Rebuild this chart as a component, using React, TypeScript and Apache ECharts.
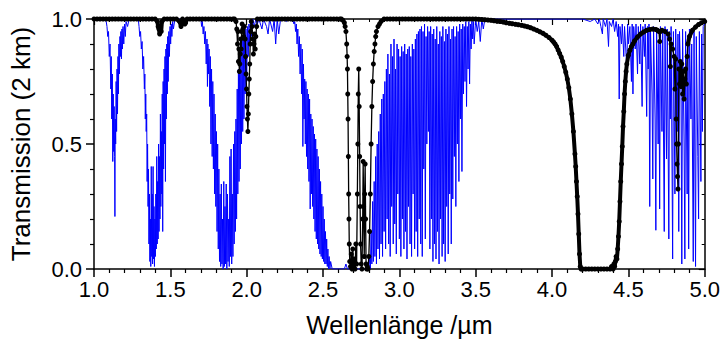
import React, { useEffect, useRef } from "react";
import * as echarts from "echarts";

// ---- Blue series (H2O transmission), [wavelength µm, transmission] ----
const blueBand1: number[][] = [
  [1.0, 1.0], [1.03, 0.995], [1.06, 1.0], [1.08, 0.99], [1.085, 0.97], [1.09, 0.93], [1.095, 0.95], [1.1, 0.85],
  [1.105, 0.9], [1.11, 0.72], [1.113, 0.85], [1.116, 0.6], [1.12, 0.78], [1.123, 0.43], [1.126, 0.7], [1.129, 0.47],
  [1.132, 0.65], [1.135, 0.45], [1.137, 0.21], [1.139, 0.6], [1.142, 0.5], [1.145, 0.75], [1.148, 0.55], [1.151, 0.8],
  [1.154, 0.62], [1.157, 0.85], [1.16, 0.7], [1.163, 0.9], [1.166, 0.78], [1.17, 0.93], [1.173, 0.85], [1.176, 0.95],
  [1.18, 0.84], [1.183, 0.96], [1.186, 0.88], [1.19, 0.97], [1.195, 0.9], [1.2, 0.98], [1.205, 0.93], [1.21, 0.99],
  [1.22, 0.97], [1.23, 1.0], [1.26, 0.995], [1.29, 1.0],
];
const blueBand2: number[][] = [
  [1.295, 0.97], [1.3, 0.93], [1.305, 0.95], [1.31, 0.88], [1.315, 0.91], [1.32, 0.8], [1.325, 0.85], [1.33, 0.72],
  [1.333, 0.78], [1.336, 0.6], [1.339, 0.7], [1.342, 0.55], [1.345, 0.62], [1.348, 0.35], [1.351, 0.5], [1.354, 0.25],
  [1.357, 0.4], [1.36, 0.1], [1.363, 0.3], [1.366, 0.03], [1.369, 0.2], [1.372, 0.01], [1.375, 0.41], [1.378, 0.05],
  [1.381, 0.3], [1.384, 0.02], [1.387, 0.41], [1.39, 0.04], [1.393, 0.25], [1.396, 0.01], [1.399, 0.2], [1.402, 0.05],
  [1.405, 0.3], [1.408, 0.08], [1.411, 0.45], [1.414, 0.1], [1.417, 0.35], [1.42, 0.12], [1.423, 0.5], [1.426, 0.15],
  [1.429, 0.45], [1.432, 0.2], [1.435, 0.62], [1.438, 0.25], [1.441, 0.55], [1.444, 0.3], [1.447, 0.7], [1.45, 0.15],
  [1.453, 0.75], [1.456, 0.4], [1.459, 0.8], [1.462, 0.5], [1.465, 0.85], [1.468, 0.35], [1.471, 0.88], [1.474, 0.6],
  [1.477, 0.9], [1.48, 0.7], [1.483, 0.93], [1.486, 0.75], [1.49, 0.95], [1.494, 0.85], [1.498, 0.97], [1.502, 0.9],
  [1.506, 0.98], [1.51, 0.93], [1.515, 0.99], [1.52, 0.96], [1.53, 1.0], [1.6, 1.0], [1.68, 1.0],
];
const blueBand3: number[][] = [
  [1.7, 1.0], [1.705, 0.97], [1.71, 0.99], [1.715, 0.94], [1.72, 0.97], [1.725, 0.9], [1.73, 0.95], [1.735, 0.82],
  [1.74, 0.92], [1.743, 0.73], [1.746, 0.9], [1.75, 0.78], [1.754, 0.88], [1.758, 0.65], [1.762, 0.85], [1.766, 0.5],
  [1.77, 0.8], [1.774, 0.45], [1.778, 0.75], [1.782, 0.4], [1.786, 0.7], [1.79, 0.3], [1.794, 0.62], [1.798, 0.25],
  [1.802, 0.55], [1.806, 0.15], [1.81, 0.5], [1.814, 0.08], [1.818, 0.4], [1.822, 0.03], [1.826, 0.3], [1.83, 0.01],
  [1.834, 0.34], [1.838, 0.02], [1.842, 0.2], [1.846, 0.0], [1.85, 0.35], [1.854, 0.01], [1.858, 0.25], [1.862, 0.02],
  [1.866, 0.34], [1.87, 0.0], [1.874, 0.3], [1.878, 0.03], [1.882, 0.2], [1.886, 0.01], [1.89, 0.45], [1.894, 0.05],
  [1.898, 0.48], [1.902, 0.02], [1.906, 0.3], [1.91, 0.05], [1.914, 0.5], [1.918, 0.1], [1.922, 0.55], [1.926, 0.15],
  [1.93, 0.6], [1.934, 0.2], [1.938, 0.72], [1.942, 0.3], [1.946, 0.8], [1.95, 0.35], [1.954, 0.85], [1.958, 0.4],
  [1.962, 0.9], [1.966, 0.5], [1.97, 0.92], [1.974, 0.55], [1.978, 0.93], [1.982, 0.6], [1.986, 0.95], [1.99, 0.7],
  [1.995, 0.96], [2.0, 0.75], [2.005, 0.97], [2.01, 0.85], [2.015, 0.98], [2.02, 0.9], [2.025, 0.99], [2.03, 0.93],
  [2.04, 1.0], [2.05, 0.97], [2.06, 1.0], [2.07, 0.98], [2.08, 1.0], [2.1, 0.96], [2.11, 1.0], [2.13, 0.97],
  [2.14, 0.94], [2.15, 1.0], [2.17, 0.95], [2.18, 1.0], [2.19, 0.9], [2.2, 1.0], [2.21, 0.94], [2.22, 0.99],
  [2.24, 1.0], [2.26, 0.99], [2.28, 1.0],
];
const blueBand4: number[][] = [
  [2.3, 1.0], [2.31, 0.98], [2.315, 0.99], [2.32, 0.95], [2.325, 0.98], [2.33, 0.9], [2.335, 0.96], [2.34, 0.85],
  [2.345, 0.93], [2.35, 0.78], [2.355, 0.9], [2.36, 0.7], [2.364, 0.88], [2.368, 0.49], [2.372, 0.82], [2.376, 0.6],
  [2.38, 0.76], [2.384, 0.5], [2.388, 0.75], [2.392, 0.45], [2.396, 0.72], [2.4, 0.4], [2.404, 0.7], [2.408, 0.35],
  [2.412, 0.68], [2.416, 0.24], [2.42, 0.62], [2.424, 0.3], [2.428, 0.6], [2.432, 0.25], [2.436, 0.57], [2.44, 0.2],
  [2.444, 0.54], [2.448, 0.15], [2.452, 0.52], [2.456, 0.12], [2.46, 0.48], [2.464, 0.1], [2.468, 0.45], [2.472, 0.08],
  [2.476, 0.4], [2.48, 0.06], [2.484, 0.35], [2.488, 0.05], [2.492, 0.3], [2.496, 0.04], [2.5, 0.25], [2.504, 0.03],
  [2.508, 0.2], [2.512, 0.02], [2.516, 0.15], [2.52, 0.02], [2.524, 0.12], [2.528, 0.01], [2.532, 0.08], [2.536, 0.0],
  [2.54, 0.05], [2.545, 0.0], [2.55, 0.03], [2.56, 0.0], [2.6, 0.0], [2.64, 0.0], [2.65, 0.02], [2.66, 0.0],
  [2.7, 0.0], [2.75, 0.0], [2.8, 0.0],
];
const blueBand5: number[][] = [
  [2.805, 0.05], [2.81, 0.0], [2.815, 0.15], [2.82, 0.02], [2.825, 0.27], [2.83, 0.03], [2.835, 0.35], [2.84, 0.05],
  [2.845, 0.45], [2.85, 0.02], [2.855, 0.5], [2.86, 0.08], [2.865, 0.55], [2.87, 0.04], [2.875, 0.62], [2.88, 0.1],
  [2.885, 0.68], [2.89, 0.05], [2.895, 0.7], [2.9, 0.15], [2.905, 0.75], [2.91, 0.08], [2.915, 0.8], [2.92, 0.2],
  [2.925, 0.86], [2.93, 0.1], [2.935, 0.78], [2.94, 0.05], [2.945, 0.9], [2.95, 0.25], [2.955, 0.85], [2.96, 0.1],
  [2.965, 0.92], [2.97, 0.18], [2.975, 0.8], [2.98, 0.06], [2.985, 0.9], [2.99, 0.3], [2.995, 0.88], [3.0, 0.12],
  [3.005, 0.85], [3.01, 0.05], [3.015, 0.89], [3.02, 0.2], [3.025, 0.87], [3.03, 0.08], [3.035, 0.9], [3.04, 0.15],
  [3.045, 0.86], [3.05, 0.04], [3.055, 0.88], [3.06, 0.25], [3.065, 0.89], [3.07, 0.1], [3.075, 0.85], [3.08, 0.05],
  [3.085, 0.9], [3.09, 0.3], [3.095, 0.88], [3.1, 0.08], [3.105, 0.92], [3.11, 0.15], [3.115, 0.94], [3.12, 0.05],
  [3.125, 0.95], [3.13, 0.2], [3.135, 0.96], [3.14, 0.1], [3.145, 0.97], [3.15, 0.05], [3.155, 0.95], [3.16, 0.4],
  [3.165, 0.98], [3.17, 0.12], [3.175, 0.93], [3.18, 0.5], [3.185, 0.97], [3.19, 0.55], [3.195, 0.95], [3.2, 0.08],
  [3.205, 0.97], [3.21, 0.2], [3.215, 0.94], [3.22, 0.03], [3.225, 0.96], [3.23, 0.1], [3.235, 0.92], [3.24, 0.04],
  [3.245, 0.97], [3.25, 0.15], [3.255, 0.9], [3.26, 0.02], [3.265, 0.95], [3.27, 0.2], [3.275, 0.93], [3.28, 0.05],
  [3.285, 0.97], [3.29, 0.1], [3.295, 0.91], [3.3, 0.03], [3.305, 0.96], [3.31, 0.25], [3.315, 0.94], [3.32, 0.06],
  [3.325, 0.97], [3.33, 0.3], [3.335, 0.92], [3.34, 0.1], [3.345, 0.96], [3.35, 0.28], [3.355, 0.97], [3.36, 0.45],
  [3.365, 0.93], [3.37, 0.25], [3.375, 0.97], [3.38, 0.5], [3.385, 0.95], [3.39, 0.35], [3.395, 0.98], [3.4, 0.6],
  [3.405, 0.96], [3.41, 0.39], [3.415, 0.98], [3.42, 0.7], [3.425, 0.97], [3.43, 0.75], [3.435, 0.99], [3.44, 0.65],
  [3.445, 0.97], [3.45, 0.8], [3.455, 0.99], [3.46, 0.74], [3.465, 0.98], [3.47, 0.88], [3.475, 1.0], [3.48, 0.92],
  [3.485, 0.99], [3.49, 0.9], [3.5, 1.0], [3.51, 0.95], [3.52, 0.99], [3.53, 0.91], [3.54, 1.0], [3.55, 0.96],
  [3.56, 1.0], [3.8, 1.0], [4.0, 1.0], [4.2, 1.0], [4.25, 0.99], [4.28, 1.0],
];
const blueBand6: number[][] = [
  [4.3, 0.98], [4.31, 1.0], [4.32, 0.97], [4.33, 0.94], [4.335, 1.0], [4.35, 0.97], [4.36, 1.0], [4.37, 0.89],
  [4.375, 0.99], [4.39, 0.97], [4.4, 1.0], [4.41, 0.95], [4.42, 0.99], [4.43, 0.93], [4.435, 0.98], [4.44, 0.68],
  [4.445, 0.97], [4.455, 0.9], [4.46, 0.98], [4.47, 0.85], [4.475, 0.97], [4.49, 0.8], [4.495, 0.98], [4.5, 0.9],
  [4.51, 0.97], [4.52, 0.75], [4.525, 0.98], [4.53, 0.7], [4.535, 0.97], [4.545, 0.88], [4.55, 0.98], [4.56, 0.78],
  [4.565, 0.97], [4.575, 0.82], [4.58, 0.98], [4.59, 0.65], [4.595, 0.97], [4.605, 0.85], [4.61, 0.98], [4.62, 0.61],
  [4.625, 0.97], [4.63, 0.8], [4.635, 0.98], [4.64, 0.25], [4.645, 0.96], [4.655, 0.7], [4.66, 0.36], [4.665, 0.97],
  [4.675, 0.6], [4.68, 0.155], [4.685, 0.96], [4.695, 0.5], [4.7, 0.9], [4.705, 0.24], [4.71, 0.97], [4.72, 0.55],
  [4.725, 0.95], [4.735, 0.15], [4.74, 0.97], [4.75, 0.44], [4.755, 0.96], [4.765, 0.12], [4.77, 0.95], [4.775, 0.6],
  [4.78, 0.97], [4.79, 0.04], [4.795, 0.95], [4.805, 0.3], [4.81, 0.96], [4.82, 0.55], [4.825, 0.94], [4.83, 0.15],
  [4.835, 0.95], [4.845, 0.7], [4.85, 0.02], [4.855, 0.96], [4.865, 0.5], [4.87, 0.04], [4.875, 0.95], [4.885, 0.3],
  [4.89, 0.9], [4.895, 0.08], [4.9, 0.96], [4.91, 0.6], [4.915, 0.9], [4.925, 0.03], [4.93, 0.95], [4.94, 0.01],
  [4.945, 0.93], [4.955, 0.45], [4.96, 0.2], [4.965, 0.95], [4.975, 0.35], [4.98, 0.94], [4.985, 0.55], [4.99, 0.97],
  [5.0, 0.98],
];

// ---- Black series (CO2 transmission) ----
const blackFlat1: number[][] = [
  [1.0, 1], [1.02, 1], [1.04, 1], [1.06, 1], [1.08, 1], [1.1, 1], [1.12, 1], [1.14, 1], [1.16, 1], [1.18, 1],
  [1.2, 1], [1.22, 1], [1.24, 1], [1.26, 1], [1.28, 1], [1.3, 1], [1.32, 1], [1.34, 1], [1.36, 1], [1.38, 1],
  [1.4, 1], [1.415, 0.99], [1.42, 0.97], [1.425, 0.96], [1.43, 0.94], [1.435, 0.97], [1.44, 0.95], [1.445, 0.99],
  [1.46, 1], [1.48, 1], [1.5, 1], [1.52, 1], [1.54, 1], [1.56, 0.99], [1.57, 0.97], [1.575, 0.98], [1.58, 1],
  [1.595, 0.98], [1.6, 0.985], [1.61, 1], [1.63, 1], [1.65, 1], [1.67, 1], [1.69, 1], [1.71, 1], [1.73, 1],
  [1.75, 1], [1.77, 1], [1.79, 1], [1.81, 1], [1.83, 1], [1.85, 1], [1.87, 1], [1.89, 1], [1.91, 1], [1.92, 1],
];
const blackBand20: number[][] = [
  [1.93, 0.99], [1.935, 0.96], [1.94, 0.9], [1.943, 0.95], [1.946, 0.83], [1.949, 0.88], [1.952, 0.79], [1.955, 0.82],
  [1.958, 0.86], [1.961, 0.92], [1.964, 0.88], [1.967, 0.95], [1.97, 0.98], [1.975, 0.96], [1.98, 0.93], [1.985, 0.97],
  [1.99, 0.92], [1.993, 0.85], [1.996, 0.78], [1.999, 0.72], [2.002, 0.65], [2.005, 0.6], [2.008, 0.55], [2.011, 0.62],
  [2.014, 0.7], [2.017, 0.76], [2.02, 0.82], [2.023, 0.9], [2.026, 0.95], [2.03, 0.99], [2.035, 0.97], [2.04, 0.92],
  [2.044, 0.86], [2.048, 0.9], [2.052, 0.94], [2.056, 0.88], [2.06, 0.93], [2.065, 0.97],
];
const blackFlat2: number[][] = [
  [2.07, 1], [2.09, 1], [2.11, 1], [2.13, 1], [2.15, 1], [2.17, 1], [2.19, 1], [2.21, 1], [2.23, 1], [2.25, 1],
  [2.27, 1], [2.29, 1], [2.31, 1], [2.33, 1], [2.35, 1], [2.37, 1], [2.39, 1], [2.41, 1], [2.43, 1], [2.45, 1],
  [2.47, 1], [2.49, 1], [2.51, 1], [2.53, 1], [2.55, 1], [2.57, 1], [2.59, 1], [2.61, 1], [2.62, 1], [2.63, 0.995],
];
const blackBand27: number[][] = [
  [2.64, 0.985], [2.645, 0.97], [2.65, 0.95], [2.655, 0.9], [2.658, 0.85], [2.66, 0.8],
  [2.662, 0.7], [2.664, 0.6], [2.666, 0.45], [2.668, 0.3], [2.67, 0.2], [2.672, 0.1], [2.675, 0.03], [2.68, 0.01],
  [2.685, 0.06], [2.69, 0.0], [2.695, 0.08], [2.7, 0.01], [2.705, 0.04], [2.71, 0.0], [2.715, 0.1], [2.72, 0.02],
  [2.725, 0.3], [2.728, 0.5], [2.731, 0.7], [2.734, 0.8], [2.737, 0.65], [2.74, 0.45], [2.743, 0.25], [2.746, 0.1],
  [2.75, 0.02], [2.755, 0.0], [2.76, 0.2], [2.763, 0.43], [2.766, 0.25], [2.77, 0.05], [2.773, 0.3], [2.776, 0.42],
  [2.779, 0.2], [2.782, 0.02], [2.786, 0.0], [2.79, 0.01], [2.795, 0.0], [2.8, 0.05], [2.805, 0.15], [2.81, 0.3],
  [2.815, 0.5], [2.82, 0.65], [2.825, 0.75], [2.83, 0.82], [2.835, 0.87], [2.84, 0.9], [2.845, 0.93], [2.85, 0.95],
  [2.86, 0.97], [2.87, 0.98],
];
const blackFlat3: number[][] = [
  [2.88, 0.99], [2.9, 1], [2.92, 1], [2.94, 1], [2.96, 1], [2.98, 1],
  [3.0, 1], [3.02, 1], [3.04, 1], [3.06, 1], [3.08, 1], [3.1, 1], [3.12, 1], [3.14, 1], [3.16, 1], [3.18, 1],
  [3.2, 1], [3.22, 1], [3.24, 1], [3.26, 1], [3.28, 1], [3.3, 1], [3.32, 1], [3.34, 1], [3.36, 1], [3.38, 1],
  [3.4, 1], [3.42, 1], [3.44, 1], [3.46, 1], [3.48, 1],
  [3.5, 1.0], [3.52, 0.999], [3.54, 0.998], [3.56, 0.997], [3.58, 0.996], [3.6, 0.995], [3.62, 0.993], [3.64, 0.991],
  [3.66, 0.99], [3.68, 0.988], [3.7, 0.985], [3.72, 0.983], [3.74, 0.981], [3.76, 0.979], [3.78, 0.977], [3.8, 0.975],
  [3.82, 0.972], [3.84, 0.969], [3.86, 0.965], [3.88, 0.96], [3.9, 0.955], [3.92, 0.949], [3.94, 0.943], [3.96, 0.935],
  [3.98, 0.926], [4.0, 0.915], [4.01, 0.908], [4.02, 0.9], [4.03, 0.89], [4.04, 0.876], [4.05, 0.862], [4.06, 0.848],
  [4.07, 0.83], [4.08, 0.81], [4.09, 0.787], [4.1, 0.76], [4.11, 0.725], [4.12, 0.68], [4.13, 0.62], [4.14, 0.55],
  [4.15, 0.46], [4.155, 0.41], [4.16, 0.35], [4.165, 0.29], [4.17, 0.22], [4.175, 0.14], [4.18, 0.06], [4.185, 0.01],
  [4.19, 0.0], [4.2, 0.0], [4.22, 0.0], [4.24, 0.0], [4.26, 0.0], [4.28, 0.0], [4.3, 0.0], [4.32, 0.0], [4.34, 0.0],
  [4.36, 0.0], [4.38, 0.0], [4.39, 0.01], [4.4, 0.0], [4.405, 0.02], [4.41, 0.01], [4.415, 0.03], [4.42, 0.05],
  [4.425, 0.04], [4.43, 0.08], [4.435, 0.13], [4.44, 0.19], [4.445, 0.27], [4.45, 0.35], [4.455, 0.42], [4.46, 0.49],
  [4.465, 0.57], [4.47, 0.63], [4.475, 0.7], [4.48, 0.75], [4.485, 0.79], [4.49, 0.82], [4.5, 0.855], [4.51, 0.875],
  [4.52, 0.89], [4.53, 0.9], [4.54, 0.912], [4.56, 0.928], [4.58, 0.94], [4.6, 0.948], [4.62, 0.955], [4.64, 0.958],
  [4.66, 0.96], [4.68, 0.958], [4.69, 0.955], [4.7, 0.95],
];
const blackBand48: number[][] = [
  [4.705, 0.91], [4.71, 0.95], [4.72, 0.955], [4.74, 0.95], [4.76, 0.94],
  [4.77, 0.92], [4.775, 0.81], [4.78, 0.9], [4.79, 0.88], [4.8, 0.85], [4.805, 0.72], [4.81, 0.84], [4.813, 0.6],
  [4.816, 0.5], [4.819, 0.42], [4.822, 0.37], [4.825, 0.32], [4.828, 0.5], [4.831, 0.8], [4.835, 0.74], [4.84, 0.83],
  [4.845, 0.73], [4.85, 0.82], [4.855, 0.7], [4.86, 0.79], [4.865, 0.68], [4.87, 0.76], [4.875, 0.8], [4.88, 0.74],
  [4.885, 0.85],
];
const blackTail: number[][] = [
  [4.89, 0.9], [4.9, 0.93], [4.92, 0.955], [4.94, 0.968], [4.96, 0.978], [4.98, 0.985], [5.0, 0.99],
];

const blueData = [...blueBand1, ...blueBand2, ...blueBand3, ...blueBand4, ...blueBand5, ...blueBand6];
const blackData = [
  ...blackFlat1, ...blackBand20, ...blackFlat2, ...blackBand27, ...blackFlat3, ...blackBand48, ...blackTail,
];
const blackThickParts = [blackFlat1, blackFlat2, blackFlat3, blackTail];

const xName = "Wellenlänge /µm";
const yName = "Transmission (2 km)";
const FONT = "'Liberation Sans', Arial, Helvetica, sans-serif";

export default function App() {
  const ref = useRef<HTMLDivElement>(null);
  useEffect(() => {
    if (!ref.current) return;
    const chart = echarts.init(ref.current, undefined, { renderer: "svg" });
    const axisLine = { show: true, onZero: false, lineStyle: { color: "#000", width: 1.5 } };
    const thickSeries = blackThickParts.map((part) => ({
      type: "line",
      data: part,
      showSymbol: false,
      symbol: "none",
      clip: false,
      lineStyle: { color: "#000", width: 4 },
      z: 4,
    }));
    chart.setOption({
      animation: false,
      backgroundColor: "#fff",
      grid: { left: 93, right: 17, top: 19, bottom: 71, containLabel: false },
      xAxis: [
        {
          type: "value", min: 1, max: 5, interval: 0.5, position: "bottom",
          axisLine,
          axisTick: { show: true, inside: false, length: 8, lineStyle: { color: "#000", width: 1.5 } },
          minorTick: { show: true, splitNumber: 5, length: 4, lineStyle: { color: "#000", width: 1.2 } },
          axisLabel: { color: "#000", fontSize: 22, fontFamily: FONT, margin: 9, formatter: (v: number) => v.toFixed(1) },
          splitLine: { show: false },
          name: xName, nameLocation: "middle", nameGap: 43,
          nameTextStyle: { color: "#000", fontSize: 25, fontFamily: FONT },
        },
        {
          type: "value", min: 1, max: 5, interval: 0.5, position: "top",
          axisLine,
          axisTick: { show: true, inside: true, length: 6, lineStyle: { color: "#000", width: 1.2 } },
          minorTick: { show: true, splitNumber: 5, length: 3, lineStyle: { color: "#000", width: 1 } },
          axisLabel: { show: false }, splitLine: { show: false },
        },
      ],
      yAxis: [
        {
          type: "value", min: 0, max: 1, interval: 0.5, position: "left",
          axisLine,
          axisTick: { show: true, inside: false, length: 8, lineStyle: { color: "#000", width: 1.5 } },
          minorTick: { show: true, splitNumber: 5, length: 4, lineStyle: { color: "#000", width: 1.2 } },
          axisLabel: { color: "#000", fontSize: 22, fontFamily: FONT, margin: 12, formatter: (v: number) => v.toFixed(1) },
          splitLine: { show: false },
          name: yName, nameLocation: "middle", nameGap: 60,
          nameTextStyle: { color: "#000", fontSize: 26, fontFamily: FONT },
        },
        {
          type: "value", min: 0, max: 1, interval: 0.5, position: "right",
          axisLine,
          axisTick: { show: true, inside: true, length: 6, lineStyle: { color: "#000", width: 1.2 } },
          minorTick: { show: true, splitNumber: 5, length: 3, lineStyle: { color: "#000", width: 1 } },
          axisLabel: { show: false }, splitLine: { show: false },
        },
      ],
      series: [
        {
          type: "line", name: "H2O", data: blueData,
          showSymbol: false, symbol: "none", lineStyle: { color: "#0000ff", width: 1 },
          z: 2,
        },
        {
          type: "line", name: "CO2", data: blackData,
          showSymbol: true, symbol: "circle", symbolSize: 5, showAllSymbol: true, clip: false,
          itemStyle: { color: "#000" }, lineStyle: { color: "#000", width: 1.3 },
          z: 3,
        },
        ...thickSeries,
      ],
    });
    return () => chart.dispose();
  }, []);
  return (
    <div
      ref={ref}
      style={{ position: "fixed", left: 0, top: 0, width: 723, height: 342, background: "#fff" }}
    />
  );
}
